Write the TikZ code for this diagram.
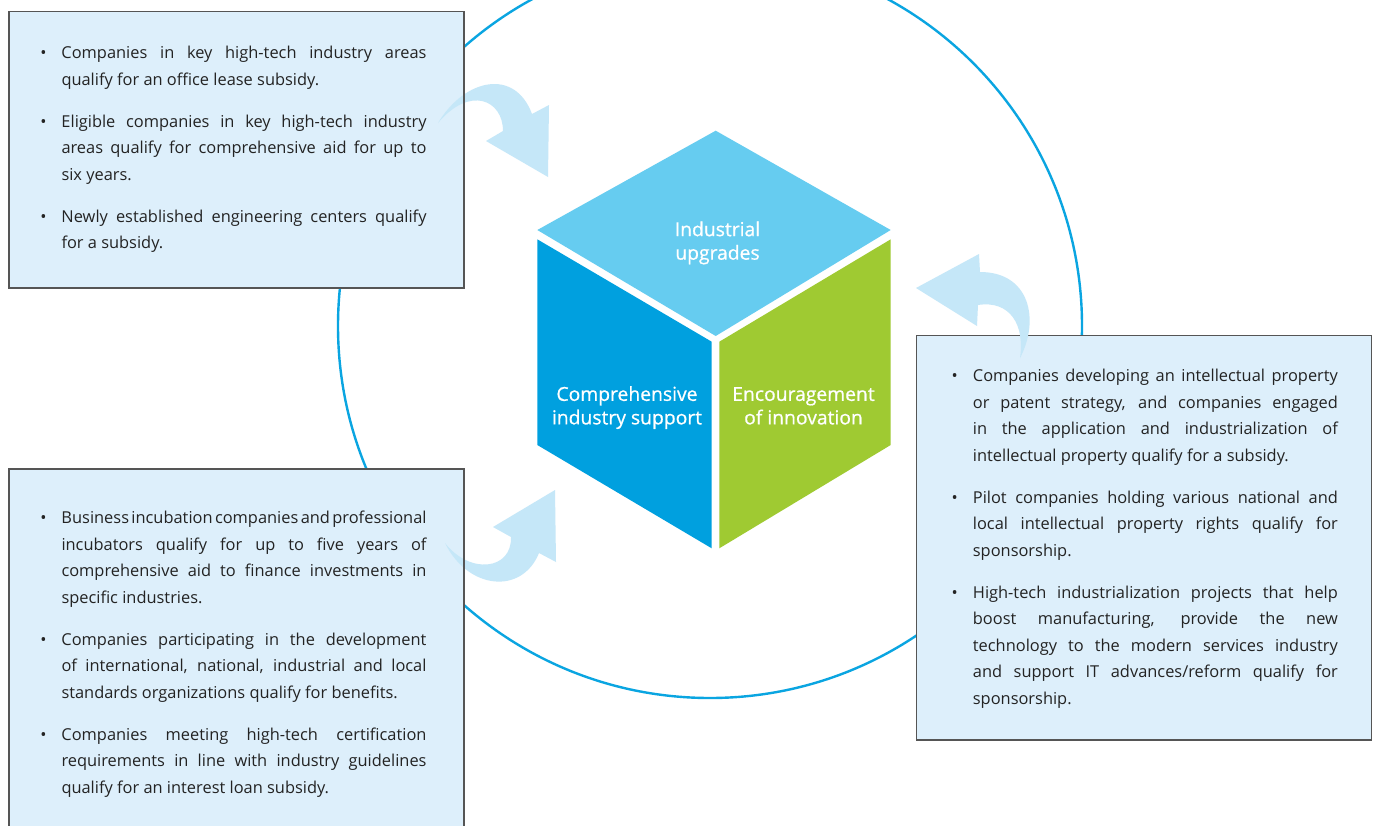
\documentclass[tikz,border=0pt]{standalone}
\usepackage{fontspec}
\setmainfont{Open Sans}
\newfontfamily\cubefam{Open Sans}[FakeBold=0.7]
\definecolor{topface}{RGB}{102,204,240}
\definecolor{leftface}{RGB}{0,160,223}
\definecolor{rightface}{RGB}{159,202,50}
\definecolor{ringblue}{RGB}{10,165,225}
\definecolor{boxfill}{RGB}{221,239,251}
\definecolor{boxline}{RGB}{85,85,85}
\definecolor{arrowblue}{RGB}{197,231,248}
\definecolor{txt}{RGB}{35,35,35}
\newcommand\bxfont{\fontsize{16.4}{26.5}\selectfont}
\newcommand\cubefont{\cubefam\fontsize{19.3}{23.5}\selectfont}
\newcommand\itmfirst{\strut\llap{\textbullet\hspace{15pt}}}
\newcommand\itm{\par\strut\llap{\textbullet\hspace{15pt}}}
\newcommand\bxsetup{\parindent=0pt\parskip=15.5pt\hyphenpenalty=10000\exhyphenpenalty=10000\spaceskip=0.26em plus 1.5em minus 0.15em\relax}
\tikzset{
  infobox/.style={draw=boxline, line width=1.3pt},
  infotext/.style={anchor=north west, inner sep=0pt, text width=365pt, align=justify, font=\bxfont, text=txt},
  facetext/.style={anchor=north, inner sep=0pt, align=center, font=\cubefont, text=white},
  ring/.style={draw=ringblue, line width=2.4pt},
  bigarrow/.style={fill=arrowblue, draw=none}
}
\begin{document}
\begin{tikzpicture}[x=1pt, y=-1pt]
\useasboundingbox (0,0) rectangle (1378,825);
\fill[white] (0,0) rectangle (1378,825);
% ring
\draw[ring] (710,326) circle[radius=372pt];
% boxes (fill)
\fill[boxfill] (8.3,10.7) rectangle (463.3,287.3);
\fill[boxfill] (8.3,468.3) rectangle (463.3,840);
\fill[boxfill] (916,335) rectangle (1370.7,739.3);
% arrows 1 and 3 (under borders)
\fill[bigarrow] (438,123) .. controls (465,78) and (515,68) .. (532,114)
  -- (549,105) -- (548,177) -- (486,141) -- (503,131)
  .. controls (503,100) and (470,85) .. (438,123) -- cycle;
\fill[bigarrow] (445,543) .. controls (468,590) and (522,595) .. (539,553)
  -- (556,562) -- (555,490) -- (493,527) -- (511,537)
  .. controls (512,570) and (470,575) .. (445,543) -- cycle;
% box borders
\node[infobox, minimum width=455pt, minimum height=276.6pt, anchor=north west] (b1) at (8.3,10.7) {};
\node[infobox, minimum width=455pt, minimum height=372pt, anchor=north west] (b3) at (8.3,468.3) {};
\node[infobox, minimum width=454.7pt, minimum height=404.3pt, anchor=north west] (b2) at (916,335) {};
% arrow 2 (over border)
\fill[bigarrow] (1020,358) .. controls (1040,320) and (1030,272) .. (980,272)
  -- (979,254) -- (916,288) -- (977,326) -- (978,305)
  .. controls (1010,300) and (1025,325) .. (1020,358) -- cycle;
% box texts
\node[infotext] (t1) at (61.3,39.75) {\bxsetup\itmfirst Companies in key high-tech industry areas\linebreak qualify for an office lease subsidy.
\itm Eligible companies in key high-tech industry\linebreak areas qualify for comprehensive aid for up to\linebreak six years.
\itm Newly established engineering centers qualify\linebreak for a subsidy.\par};
\node[infotext] (t3) at (61.3,504.75) {\bxsetup\itmfirst Business incubation companies and professional\linebreak incubators qualify for up to five years of\linebreak comprehensive aid to finance investments in\linebreak specific industries.
\itm Companies participating in the development\linebreak of international, national, industrial and local\linebreak standards organizations qualify for benefits.
\itm Companies meeting high-tech certification\linebreak requirements in line with industry guidelines\linebreak qualify for an interest loan subsidy.\par};
\node[infotext] (t2) at (972.7,363.15) {\bxsetup\itmfirst Companies developing an intellectual property\linebreak or patent strategy, and companies engaged\linebreak in the application and industrialization of\linebreak intellectual property qualify for a subsidy.
\itm Pilot companies holding various national and\linebreak local intellectual property rights qualify for\linebreak sponsorship.
\itm High-tech industrialization projects that help\linebreak boost manufacturing, provide the new\linebreak technology to the modern services industry\linebreak and support IT advances/reform qualify for\linebreak sponsorship.\par};
% cube
\fill[topface] (537.3,230) -- (715.7,130.7) -- (890.7,230) -- (715.7,336) -- cycle;
\fill[leftface] (537.3,239.3) -- (711.7,341.7) -- (711.7,548.3) -- (537.3,445) -- cycle;
\fill[rightface] (719.3,341.7) -- (890.7,239.3) -- (890.7,445) -- (719.3,548.3) -- cycle;
\node[facetext] (ctop) at (717.5,219.5) {\strut Industrial\\upgrades};
\node[facetext] (cleft) at (627,384.2) {\strut Comprehensive\\industry support};
\node[facetext] (cright) at (803.5,384.2) {\strut Encouragement\\of innovation};
\end{tikzpicture}
\end{document}
